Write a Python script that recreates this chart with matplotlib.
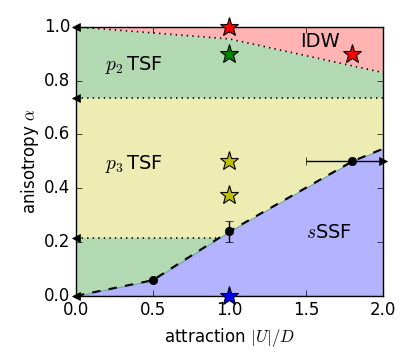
import numpy as np
import matplotlib
matplotlib.use('Agg')
import matplotlib.pyplot as plt

plt.style.use('classic')

# phase boundaries
U_idw = [0.0, 1.0, 2.0]
a_idw = [1.0, 0.955, 0.83]
a_p2p3 = 0.737
a_p3p2 = 0.215
U_s = [0.0, 0.5, 1.0, 1.8, 2.0]
a_s = [0.0, 0.058, 0.24, 0.5, 0.547]

# data points with error bars
U_pts = [0.5, 1.0, 1.8]
a_pts = [0.058, 0.24, 0.5]
a_err = [0.0, 0.04, 0.0]
U_err_lo = [0.0, 0.0, 0.3]
U_err_hi = [0.0, 0.0, 0.2]

# stars (U, alpha, colour)
star_U = [1.0, 1.0, 1.0, 1.0, 1.0, 1.8]
star_a = [1.0, 0.9, 0.5, 0.375, 0.0, 0.9]
star_c = ['r', 'g', 'y', 'y', 'b', 'r']

# left arrows at U=0
arrow_a = [1.0, a_p2p3, a_p3p2, 0.0]

c_red = '#ffb3b3'
c_green = '#b3d9b3'
c_yel = '#ececb3'
c_blue = '#b3b3ff'

fig = plt.figure(figsize=(4.15, 3.63), dpi=100)
ax = fig.add_axes([0.183, 0.185, 0.740, 0.741])

x = np.array([0.0, 2.0])
ax.fill_between(U_idw, a_idw, 1.0, color=c_red, lw=0)
ax.fill_between(U_idw, 0.0, a_idw, color=c_green, lw=0)
ax.fill_between(x, a_p3p2, a_p2p3, color=c_yel, lw=0)
ax.fill_between(U_s, 0.0, a_s, color=c_blue, edgecolor='#6fa8a8', lw=0.8)

ax.plot(U_idw, a_idw, 'k:', lw=1.2)
ax.plot(x, [a_p2p3, a_p2p3], 'k:', lw=1.2)
U_cross = np.interp(a_p3p2, a_s, U_s)
ax.plot([0.0, U_cross], [a_p3p2, a_p3p2], 'k:', lw=1.2)
ax.plot(U_s, a_s, 'k--', lw=1.5)

ax.errorbar(U_pts, a_pts, yerr=a_err, xerr=[U_err_lo, U_err_hi], fmt='ko',
            ms=6, capsize=3, elinewidth=1, zorder=5)
ax.plot([2.0], [0.5], 'k>', ms=5.5, clip_on=False, zorder=6)
ax.plot(np.zeros(len(arrow_a)), arrow_a, 'k<', ms=5.5, clip_on=False, zorder=6)

for u, a, c in zip(star_U, star_a, star_c):
    ax.plot(u, a, marker='*', color=c, mec='k', mew=0.8, ms=14,
            clip_on=False, zorder=7)

ax.text(0.19, 0.86, r'$p_2\,$TSF', fontsize=14, va='center')
ax.text(0.19, 0.49, r'$p_3\,$TSF', fontsize=14, va='center')
ax.text(1.46, 0.945, 'IDW', fontsize=14, va='center')
ax.text(1.5, 0.235, r'$s$SSF', fontsize=14, va='center')

ax.set_xlim(0, 2)
ax.set_ylim(0, 1)
ax.set_xticks([0.0, 0.5, 1.0, 1.5, 2.0])
ax.set_yticks([0.0, 0.2, 0.4, 0.6, 0.8, 1.0])
ax.set_xlabel(r'attraction $|U|/D$', fontsize=12)
ax.set_ylabel(r'anisotropy $\alpha$', fontsize=12, labelpad=2)

fig.savefig('out.png', dpi=100)
